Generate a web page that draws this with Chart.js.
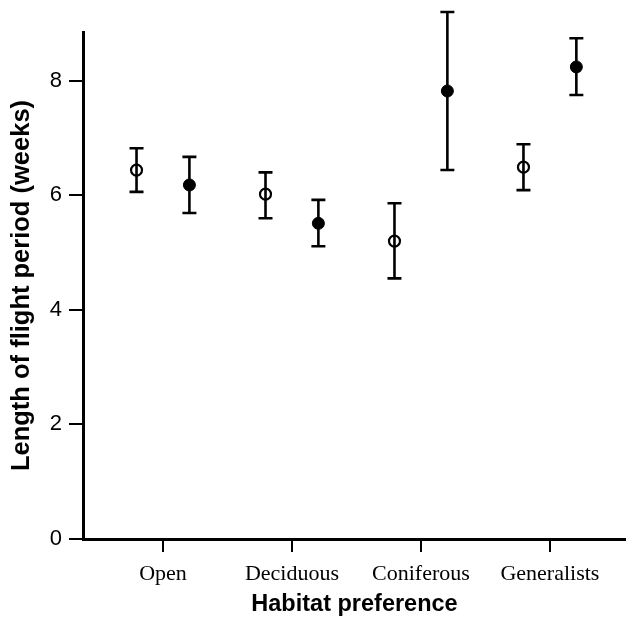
<!DOCTYPE html>
<html>
<head>
<meta charset="utf-8">
<script src="https://cdn.jsdelivr.net/npm/chart.js@4"></script>
<style>
  html, body { margin: 0; padding: 0; background: #fff; overflow: hidden; }
  canvas { display: block; }
</style>
</head>
<body>
<canvas id="chart" width="626" height="619"></canvas>
<script>
const categories = ['Open', 'Deciduous', 'Coniferous', 'Generalists'];
const yTicks = [0, 2, 4, 6, 8];

// open circles
const openMean = [6.44, 6.02, 5.20, 6.49];
const openLow = [6.06, 5.60, 4.55, 6.09];
const openHigh = [6.82, 6.40, 5.86, 6.89];

// filled circles
const filledMean = [6.18, 5.51, 7.82, 8.24];
const filledLow = [5.69, 5.11, 6.44, 7.75];
const filledHigh = [6.67, 5.92, 9.20, 8.74];

const shift = 0.205;

function makePoints(mean, low, high, dx) {
  return mean.map((v, i) => ({ x: i + 1 + dx, y: v, lo: low[i], hi: high[i] }));
}

const errorBars = {
  id: 'errorBars',
  afterDatasetsDraw(chart) {
    const ctx = chart.ctx;
    const yScale = chart.scales.y;
    ctx.save();
    ctx.strokeStyle = '#000';
    ctx.lineWidth = 2.6;
    chart.data.datasets.forEach((ds, di) => {
      const meta = chart.getDatasetMeta(di);
      meta.data.forEach((pt, i) => {
        const d = ds.data[i];
        const x = pt.x;
        const yLo = yScale.getPixelForValue(d.lo);
        const yHi = yScale.getPixelForValue(d.hi);
        ctx.beginPath();
        ctx.moveTo(x, yLo);
        ctx.lineTo(x, yHi);
        ctx.moveTo(x - 7, yLo);
        ctx.lineTo(x + 7, yLo);
        ctx.moveTo(x - 7, yHi);
        ctx.lineTo(x + 7, yHi);
        ctx.stroke();
      });
    });
    ctx.restore();
  }
};

const ctx = document.getElementById('chart').getContext('2d');
window.myChart = new Chart(ctx, {
  type: 'scatter',
  data: {
    datasets: [
      {
        label: 'open',
        data: makePoints(openMean, openLow, openHigh, -shift),
        pointStyle: 'circle',
        pointRadius: 5.5,
        pointBorderWidth: 2.2,
        pointBackgroundColor: 'rgba(0,0,0,0)',
        pointBorderColor: '#000'
      },
      {
        label: 'filled',
        data: makePoints(filledMean, filledLow, filledHigh, shift),
        pointStyle: 'circle',
        pointRadius: 6,
        pointBorderWidth: 1,
        pointBackgroundColor: '#000',
        pointBorderColor: '#000'
      }
    ]
  },
  options: {
    responsive: false,
    animation: false,
    layout: { autoPadding: false, padding: { top: 32, left: 0, right: 0, bottom: 0 } },
    plugins: {
      legend: { display: false },
      tooltip: { enabled: false }
    },
    scales: {
      x: {
        type: 'linear',
        min: 0.38,
        max: 4.59,
        afterBuildTicks: (scale) => {
          scale.ticks = categories.map((c, i) => ({ value: i + 1 }));
        },
        afterFit: (scale) => {
          scale.height = 80;
          scale.paddingLeft = 0;
          scale.paddingRight = 0;
        },
        border: { display: true, color: '#000', width: 3 },
        grid: { display: true, drawOnChartArea: false, drawTicks: true, tickLength: 13, color: '#000', lineWidth: 2 },
        ticks: {
          color: '#000',
          padding: 9,
          font: { family: 'Liberation Serif', size: 22 },
          callback: (v) => categories[Math.round(v) - 1] || ''
        },
        title: {
          display: true,
          text: 'Habitat preference',
          color: '#000',
          padding: { top: 0, bottom: 0 },
          font: { family: 'Liberation Sans', size: 23.5, weight: 'bold' }
        }
      },
      y: {
        min: 0,
        max: 8.85,
        afterBuildTicks: (scale) => {
          scale.ticks = yTicks.map(v => ({ value: v }));
        },
        afterFit: (scale) => { scale.width = 83; },
        border: { display: true, color: '#000', width: 3 },
        grid: { display: true, drawOnChartArea: false, drawTicks: true, tickLength: 14, color: '#000', lineWidth: 2 },
        ticks: {
          color: '#000',
          padding: 7,
          includeBounds: false,
          font: { family: 'Liberation Sans', size: 22 }
        },
        title: {
          display: true,
          text: 'Length of flight period (weeks)',
          color: '#000',
          padding: { top: 7, bottom: 0 },
          font: { family: 'Liberation Sans', size: 25.5, weight: 'bold' }
        }
      }
    }
  },
  plugins: [errorBars]
});
</script>
</body>
</html>
